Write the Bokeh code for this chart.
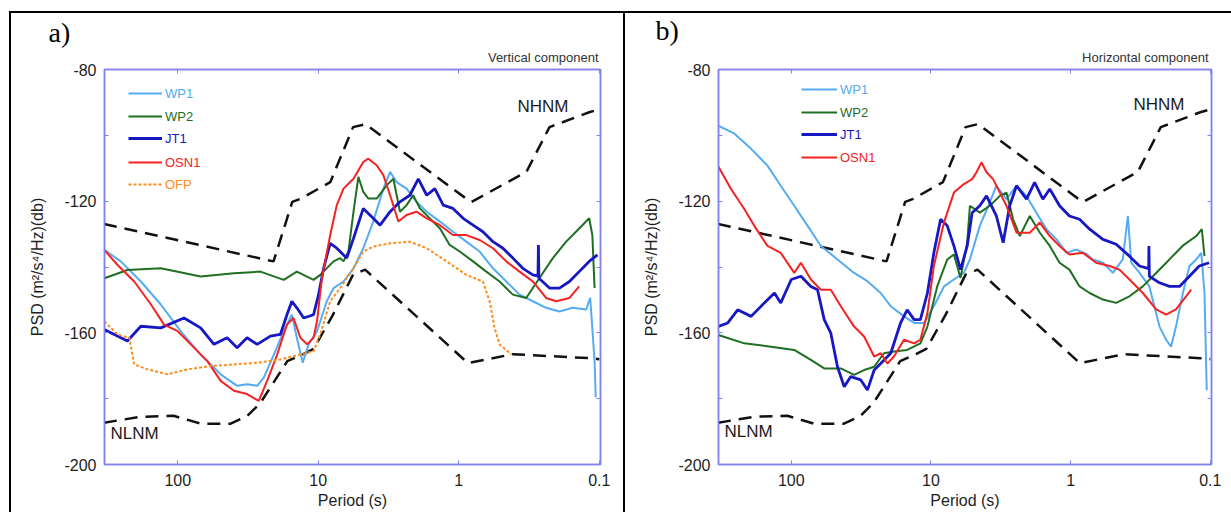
from bokeh.plotting import figure
from bokeh.models import (Range1d, FixedTicker, NumeralTickFormatter, LinearAxis, LogAxis,
                          Label, Legend, LegendItem, Title)
from bokeh.layouts import row
from bokeh.embed import file_html
from bokeh.resources import INLINE

# ---------------- data (period in s, PSD in dB) ----------------
NHNM_T = [335, 20.8, 15.3, 13.4, 8.2, 5.65, 4.6, 0.88, 0.81, 0.33, 0.226, 0.118, 0.1]
NHNM_DB = [-126.9, -138.3, -120.2, -119.3, -114.2, -97.5, -96.6, -119.3, -120.2, -111.1, -97.5, -93.0, -92.1]

NLNM_T = [335, 183, 107, 68.7, 42, 31.9, 25.8, 16.6, 12.8, 10.8, 7.83, 5.65, 4.64, 0.86, 0.414, 0.118, 0.1]
NLNM_DB = [-187.3, -185.5, -185.2, -187.6, -187.6, -185.2, -181.3, -168.6, -166.5, -164.9, -154.4,
           -142.3, -140.8, -169.2, -166.5, -167.7, -168.0]

# --- a) vertical component ---
A_WP1_T = [333, 254, 183, 132, 95.3, 68.7, 49.5, 37.8, 32.1, 27.2, 24.4, 20.7, 17.6, 15.4, 14.2, 12.9,
           11.7, 10.2, 8.69, 7.78, 6.61, 5.61, 4.78, 4.06, 3.44, 3.08, 2.77, 2.35, 2.00, 1.69, 1.36,
           1.10, 0.883, 0.710, 0.571, 0.459, 0.369, 0.297, 0.239, 0.192, 0.155, 0.124, 0.116, 0.108, 0.106]
A_WP1_DB = [-134.8, -138.3, -144.4, -151.4, -159.5, -166.6, -172.6, -176.1, -175.6, -176.1, -173.6,
            -166.6, -159.5, -154.5, -161.5, -169.1, -163.5, -159.5, -150.4, -146.4, -144.4, -140.4,
            -134.3, -126.2, -116.2, -111.1, -114.2, -116.2, -120.2, -123.2, -126.2, -129.3, -132.3,
            -135.3, -140.4, -144.4, -148.4, -150.4, -152.4, -153.5, -152.4, -152.9, -149.4, -168.6, -179.6]

A_WP2_T = [333, 228, 132, 68.7, 39.8, 25.8, 17.6, 14.2, 10.8, 9.68, 7.78, 6.98, 6.61, 6.10, 5.61, 5.18,
           4.78, 4.40, 3.84, 3.26, 2.92, 2.62, 2.35, 2.11, 1.89, 1.61, 1.36, 1.16, 0.984, 0.791, 0.637,
           0.512, 0.412, 0.331, 0.267, 0.214, 0.172, 0.139, 0.118, 0.112, 0.108]
A_WP2_DB = [-143.4, -140.9, -140.4, -142.9, -141.9, -141.4, -143.9, -141.4, -143.9, -142.4, -138.3,
            -137.3, -138.3, -135.3, -123.2, -112.6, -117.2, -119.2, -119.2, -115.2, -113.2, -123.2,
            -121.2, -118.2, -122.2, -125.2, -128.3, -133.3, -135.3, -138.3, -141.4, -144.4, -148.4,
            -149.4, -143.4, -137.3, -132.3, -128.3, -125.2, -130.3, -146.4]

A_JT1_T = [333, 228, 183, 132, 90.2, 68.7, 55.2, 44.5, 37.8, 32.1, 27.2, 21.9, 18.6, 16.7, 15.4, 14.2,
           12.7, 10.8, 9.95, 9.16, 8.22, 7.38, 6.27, 5.61, 4.78, 4.06, 3.63, 3.08, 2.62, 2.23, 1.94,
           1.69, 1.48, 1.29, 1.10, 0.931, 0.791, 0.673, 0.571, 0.485, 0.412, 0.350, 0.297, 0.273,
           0.271, 0.269, 0.226, 0.192, 0.163, 0.139, 0.118, 0.103]
A_JT1_DB = [-159.0, -162.5, -158.0, -158.5, -155.5, -158.5, -163.5, -161.5, -164.5, -161.5, -163.5,
            -161.0, -160.5, -154.5, -150.4, -152.4, -155.5, -154.5, -148.4, -140.4, -132.8, -134.3,
            -137.3, -131.3, -122.2, -125.2, -127.3, -123.2, -120.2, -118.2, -113.2, -118.2, -116.2,
            -121.2, -122.2, -125.2, -127.3, -129.3, -132.3, -134.3, -137.3, -140.4, -142.4, -142.8,
            -133.3, -143.4, -146.4, -146.4, -144.4, -141.4, -138.3, -136.3]

A_OSN1_T = [333, 268, 204, 155, 125, 100, 76.6, 61.5, 49.5, 39.8, 32.1, 26.5, 23.1, 19.6, 16.7, 15.0,
            13.4, 12.0, 10.8, 10.2, 9.42, 8.22, 7.38, 6.61, 5.61, 4.78, 4.40, 3.84, 3.44, 3.08, 2.69,
            2.35, 2.00, 1.69, 1.36, 1.10, 0.883, 0.710, 0.571, 0.459, 0.369, 0.297, 0.239, 0.203,
            0.163, 0.139]
A_OSN1_DB = [-134.8, -139.4, -144.4, -151.4, -157.5, -159.5, -164.5, -168.6, -174.6, -177.6, -178.6,
             -180.7, -174.6, -166.6, -157.5, -155.5, -161.5, -163.5, -161.5, -156.5, -143.4, -130.3,
             -121.2, -116.2, -113.2, -108.1, -107.1, -109.1, -112.1, -118.2, -126.2, -124.2, -123.2,
             -125.2, -127.3, -130.3, -130.3, -131.8, -134.3, -138.3, -141.4, -144.4, -149.4, -150.4,
             -149.4, -145.9]

A_OFP_T = [333, 268, 221, 204, 164, 118, 85.3, 58.3, 39.8, 27.2, 18.6, 13.4, 10.8, 9.68, 8.22, 6.98,
           5.61, 4.78, 4.06, 3.08, 2.23, 1.69, 1.22, 0.883, 0.673, 0.603, 0.556, 0.512, 0.423]
A_OFP_DB = [-156.5, -160.5, -161.5, -169.6, -171.1, -172.6, -171.1, -170.1, -169.6, -169.1, -168.1,
            -166.6, -165.6, -160.5, -150.4, -146.4, -140.4, -135.3, -133.8, -132.8, -132.3, -134.3,
            -138.3, -142.4, -144.4, -150.4, -158.5, -163.5, -166.6]

# --- b) horizontal component ---
B_WP1_T = [336, 255, 194, 148, 119, 95.3, 76.4, 61.4, 46.7, 35.5, 28.5, 22.9, 19.4, 15.6, 13.2, 11.2,
           9.53, 8.07, 6.85, 5.81, 5.26, 4.47, 3.79, 3.40, 2.88, 2.44, 2.07, 1.76, 1.49, 1.26, 1.07,
           0.910, 0.773, 0.692, 0.587, 0.498, 0.423, 0.389, 0.368, 0.321, 0.273, 0.231, 0.207, 0.191,
           0.176, 0.157, 0.141, 0.126, 0.116, 0.110, 0.106]
B_WP1_DB = [-97.0, -99.5, -104.1, -109.2, -115.3, -121.4, -127.5, -133.6, -137.7, -141.8, -144.3,
            -147.9, -151.9, -155.0, -157.0, -157.0, -151.9, -145.9, -143.8, -141.8, -137.7, -127.5,
            -120.4, -115.3, -119.4, -115.3, -118.4, -123.5, -128.5, -131.6, -135.7, -134.7, -136.0,
            -137.7, -138.7, -141.8, -137.7, -124.5, -138.7, -141.8, -145.9, -158.1, -162.1, -164.2,
            -158.1, -147.9, -139.7, -137.7, -135.7, -147.9, -177.4]

B_WP2_T = [336, 217, 140, 95.3, 72.4, 58.1, 44.2, 35.5, 30.1, 25.5, 21.7, 18.4, 14.8, 11.9, 10.6, 9.02,
           7.64, 6.85, 6.14, 5.50, 5.26, 4.47, 3.79, 3.21, 2.88, 2.58, 2.31, 1.96, 1.66, 1.41, 1.20,
           1.02, 0.863, 0.731, 0.587, 0.472, 0.379, 0.304, 0.244, 0.196, 0.158, 0.126, 0.115, 0.110]
B_WP2_DB = [-160.6, -163.2, -164.2, -165.2, -168.2, -170.8, -170.8, -172.8, -171.3, -170.3, -166.2,
            -165.7, -165.2, -163.2, -158.1, -145.9, -137.7, -136.2, -143.3, -132.6, -121.4, -123.5,
            -121.4, -118.4, -117.4, -125.5, -130.6, -124.5, -129.6, -133.6, -138.7, -140.8, -145.9,
            -147.9, -149.9, -150.9, -148.9, -145.9, -141.8, -137.7, -133.6, -130.6, -128.5, -136.7]

B_JT1_T = [336, 285, 242, 194, 156, 132, 119, 100, 85.3, 72.4, 64.9, 58.1, 52.1, 46.7, 41.8, 37.5, 31.8,
           28.5, 25.5, 22.9, 19.4, 16.5, 14.8, 13.2, 11.9, 10.6, 9.53, 8.53, 7.64, 6.85, 6.14, 5.50,
           5.07, 4.47, 4.00, 3.40, 3.04, 2.73, 2.44, 2.07, 1.81, 1.58, 1.41, 1.20, 1.02, 0.863, 0.731,
           0.587, 0.472, 0.379, 0.321, 0.276, 0.275, 0.273, 0.231, 0.196, 0.166, 0.141, 0.120, 0.102]
B_JT1_DB = [-158.1, -157.0, -153.0, -155.0, -150.9, -147.9, -150.9, -143.8, -142.8, -145.9, -146.9,
            -156.0, -160.1, -170.3, -176.4, -173.3, -174.3, -177.4, -171.3, -169.3, -166.2, -157.0,
            -153.0, -156.0, -156.0, -147.9, -135.7, -125.5, -127.5, -133.6, -140.8, -133.6, -123.5,
            -121.4, -118.4, -124.5, -132.6, -121.4, -115.3, -119.4, -114.3, -119.4, -116.3, -121.4,
            -124.5, -125.5, -128.5, -131.6, -133.1, -136.7, -139.7, -140.5, -133.6, -142.8, -144.8,
            -145.9, -145.9, -142.8, -139.7, -138.7]

B_OSN1_T = [336, 270, 217, 184, 148, 119, 95.3, 85.3, 72.4, 61.4, 52.1, 44.2, 35.5, 30.1, 25.5, 22.9,
            20.5, 18.4, 15.6, 13.2, 11.9, 10.6, 9.53, 8.07, 6.85, 5.81, 5.07, 4.72, 4.35, 4.00, 3.59,
            3.21, 2.88, 2.44, 1.96, 1.66, 1.41, 1.20, 1.02, 0.817, 0.656, 0.526, 0.447, 0.379, 0.304,
            0.244, 0.207, 0.176, 0.149, 0.137]
B_OSN1_DB = [-109.2, -116.3, -122.4, -127.5, -133.6, -135.7, -141.8, -138.7, -143.8, -146.9, -146.9,
             -151.9, -158.1, -161.1, -167.2, -166.2, -169.3, -167.2, -162.1, -163.2, -162.1, -154.0,
             -139.7, -126.5, -117.4, -114.8, -113.3, -111.2, -108.2, -111.2, -113.3, -117.4, -121.4,
             -129.6, -129.6, -126.5, -130.6, -133.6, -136.2, -135.7, -138.7, -139.7, -140.8, -143.8,
             -147.9, -152.9, -154.5, -152.9, -148.9, -146.9]

X_TICKS = [0.1, 1, 10, 100]
Y_MAJOR = [-200, -160, -120, -80]
Y_MINOR = [-180, -140, -100]

C_WP1 = "#55acf2"
C_WP2 = "#1f6f22"
C_JT1 = "#1717c4"
C_OSN1 = "#f52222"
C_OFP = "#ff8c1a"
AXC = "#8282ee"
SANS = "Liberation Sans"


def style_axis(ax):
    ax.axis_line_color = AXC
    ax.axis_line_width = 1.5
    ax.major_tick_line_color = AXC
    ax.minor_tick_line_color = AXC
    ax.major_tick_in = 4
    ax.major_tick_out = 0
    ax.minor_tick_in = 4
    ax.minor_tick_out = 0


def panel(width, borders, letter, comp, series, leg_x, leg_y, glyph_w,
          comp_offset, comp_standoff, letter_offset, letter_standoff, nh_pos, nl_pos, styles):
    bl, br, bt, bb = borders
    p = figure(width=width, height=512, x_axis_type="log",
               x_range=Range1d(332, 0.098), y_range=Range1d(-200, -80),
               output_backend="svg", toolbar_location=None,
               min_border_left=bl, min_border_right=br,
               min_border_top=bt, min_border_bottom=bb)
    p.styles = styles
    p.grid.visible = False
    p.outline_line_color = AXC
    p.outline_line_width = 1.5
    p.background_fill_color = "white"
    p.border_fill_alpha = 0

    xa = p.xaxis[0]
    xa.ticker = FixedTicker(ticks=X_TICKS, minor_ticks=[])
    xa.formatter = NumeralTickFormatter(format="0[.][0]")
    ya = p.yaxis[0]
    ya.ticker = FixedTicker(ticks=Y_MAJOR, minor_ticks=Y_MINOR)
    ya.formatter = NumeralTickFormatter(format="0")
    for ax in (xa, ya):
        style_axis(ax)
        ax.major_label_text_font = SANS
        ax.major_label_text_font_size = "16px"
        ax.major_label_text_color = "#1e1e1e"
        ax.axis_label_text_font = SANS
        ax.axis_label_text_font_size = "16px"
        ax.axis_label_text_font_style = "normal"
        ax.axis_label_text_color = "#1e1e1e"
    xa.major_label_standoff = 9
    ya.major_label_standoff = 8
    ya.axis_label = "PSD (m\u00b2/s\u2074/Hz)(db)"
    ya.axis_label_standoff = 15
    xa.axis_label = "Period (s)"
    xa.axis_label_standoff = 3

    top = LogAxis(ticker=FixedTicker(ticks=X_TICKS, minor_ticks=[]))
    right = LinearAxis(ticker=FixedTicker(ticks=Y_MAJOR, minor_ticks=Y_MINOR))
    for ax in (top, right):
        style_axis(ax)
        ax.major_label_text_font_size = "2px"
        ax.major_label_text_alpha = 0
        ax.major_label_standoff = 0
    p.add_layout(top, "above")
    p.add_layout(right, "right")

    p.add_layout(Title(text=comp, align="right", offset=comp_offset, standoff=comp_standoff,
                       text_font=SANS, text_font_size="13px", text_font_style="normal",
                       text_color="#333333"), "above")
    p.add_layout(Title(text=letter, align="left", offset=letter_offset, standoff=letter_standoff,
                       text_font="Liberation Serif", text_font_size="28px",
                       text_font_style="normal", text_color="black"), "above")

    # noise models
    p.line(NHNM_T, NHNM_DB, line_color="#111111", line_width=2.5, line_dash="13 8")
    p.line(NLNM_T, NLNM_DB, line_color="#111111", line_width=2.5, line_dash="13 8")

    legends = []
    for i, (name, t, db, color, lw, dash) in enumerate(series):
        r = p.line(t, db, line_color=color, line_width=lw, line_dash=dash)
        legends.append(Legend(items=[LegendItem(label=name, renderers=[r])],
                              location=(leg_x, leg_y[i]), padding=0, margin=0, spacing=0,
                              glyph_width=glyph_w, glyph_height=20, label_height=20,
                              label_standoff=3, border_line_alpha=0, background_fill_alpha=0,
                              label_text_font=SANS, label_text_font_size="13px",
                              label_text_color=color))
    for lg in legends:
        p.add_layout(lg, "center")

    p.add_layout(Label(x=nh_pos[0], y=nh_pos[1], x_units="screen", y_units="screen", text="NHNM",
                       text_font=SANS, text_font_size="17px", text_color="#1a1a1a"))
    p.add_layout(Label(x=nl_pos[0], y=nl_pos[1], x_units="screen", y_units="screen", text="NLNM",
                       text_font=SANS, text_font_size="17px", text_color="#1a1a1a"))
    return p


def lines_css(*rects):
    parts = ["linear-gradient(#000,#000) %dpx %dpx / %dpx %dpx no-repeat" % r for r in rects]
    return {"background": ", ".join(parts + ["#ffffff"])}


series_a = [
    ("WP1", A_WP1_T, A_WP1_DB, C_WP1, 2, "solid"),
    ("WP2", A_WP2_T, A_WP2_DB, C_WP2, 2, "solid"),
    ("JT1", A_JT1_T, A_JT1_DB, C_JT1, 2.8, "solid"),
    ("OSN1", A_OSN1_T, A_OSN1_DB, C_OSN1, 2, "solid"),
    ("OFP", A_OFP_T, A_OFP_DB, C_OFP, 2, "3 2"),
]
series_b = [
    ("WP1", B_WP1_T, B_WP1_DB, C_WP1, 2, "solid"),
    ("WP2", B_WP2_T, B_WP2_DB, C_WP2, 2, "solid"),
    ("JT1", B_JT1_T, B_JT1_DB, C_JT1, 2.8, "solid"),
    ("OSN1", B_OSN1_T, B_OSN1_DB, C_OSN1, 2, "solid"),
]

# panel a occupies x 0..625, panel b x 625..1231 (page pixels)
pa = panel(625, (104, 25, 69, 48), "a)", "Vertical component", series_a,
           24, [361, 338, 316, 292, 270], 34, 2, 10, -56, -10, (413, 349), (6, 22),
           lines_css((9, 11, 616, 2), (9, 11, 2, 501), (623, 11, 2, 501)))
pb = panel(606, (93, 20, 69, 48), "b)", "Horizontal component", series_b,
           83, [365, 342, 320, 297], 36, 3, 10, -63, -7, (415, 351), (6, 24),
           lines_css((0, 11, 606, 2)))

layout = row(pa, pb)
open("out.html", "w").write(file_html(layout, INLINE))
